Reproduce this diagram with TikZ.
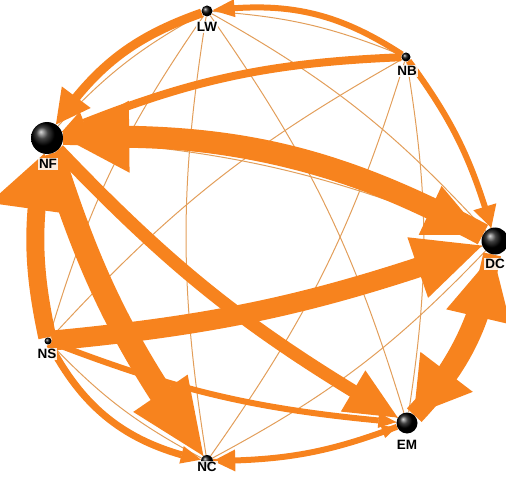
\documentclass[tikz,border=0pt]{standalone}
\usepackage{fontspec}
\setmainfont{Liberation Sans}
\usetikzlibrary{arrows.meta,bending}
\definecolor{flowcol}{RGB}{247,131,30}
\definecolor{thincol}{RGB}{226,158,90}
\pgfdeclarelayer{bg}
\pgfsetlayers{bg,main}
\begin{document}
\begin{tikzpicture}[x=1pt,y=1pt,
  spherenode/.style={circle,inner sep=0pt,ball color=black,minimum size=#1},
  lab/.style={fill=white,fill opacity=0.85,text opacity=1,inner sep=1pt,font=\fontsize{13.5}{14}\selectfont\bfseries},
  thinline/.style={draw=thincol,line width=1pt},
  flowarrow/.style n args={3}{draw=flowcol,line width=#1,-{Triangle[length=#2,width=#3,line width=0pt]}}]
\useasboundingbox (0,0) rectangle (506,480);
% spheres
\node[spherenode=11pt] (LW) at (207,469) {};
\node[spherenode=9pt]  (NB) at (406,423) {};
\node[spherenode=32pt] (NF) at (47,342) {};
\node[spherenode=27pt] (DC) at (495,239) {};
\node[spherenode=7pt]  (NS) at (48,139) {};
\node[spherenode=12pt] (NC) at (207,19) {};
\node[spherenode=21pt] (EM) at (407,57) {};
% labels
\node[lab] (LWl) at (207,453) {LW};
\node[lab] (NBl) at (407,409) {NB};
\node[lab] (NFl) at (48,316) {NF};
\node[lab] (DCl) at (495,216) {DC};
\node[lab] (NSl) at (47,126) {NS};
\node[lab] (NCl) at (207,13) {NC};
\node[lab] (EMl) at (407,35) {EM};
\begin{pgfonlayer}{bg}
% thin lines
\draw[thinline] (DC) to[bend right=9] (NB);
\draw[thinline] (DC) to[bend right=9] (LW);
\draw[thinline] (DC) to[bend right=9] (NF);
\draw[thinline] (NS) to[bend right=9] (DC);
\draw[thinline] (NC) to[bend right=9] (DC);
\draw[thinline] (EM) to[bend right=9] (DC);
\draw[thinline] (NB) to[bend right=9] (LW);
\draw[thinline] (NB) to[bend right=9] (NF);
\draw[thinline] (NB) to[bend right=9] (NS);
\draw[thinline] (NC) to[bend right=9] (NB);
\draw[thinline] (EM) to[bend right=9] (NB);
\draw[thinline] (LW) to[bend right=9] (NF);
\draw[thinline] (LW) to[bend right=9] (NS);
\draw[thinline] (LW) to[bend right=9] (NC);
\draw[thinline] (EM) to[bend right=9] (LW);
\draw[thinline] (NF) to[bend right=9] (NS);
\draw[thinline] (NF) to[bend right=9] (NC);
\draw[thinline] (NF) to[bend right=9] (EM);
\draw[thinline] (NS) to[bend right=9] (NC);
\draw[thinline] (NS) to[bend right=9] (EM);
\draw[thinline] (NC) to[bend right=9] (EM);
% thick flows
\draw[flowarrow={6pt}{22pt}{18pt}] (NB) to[bend right=20] (LW);
\draw[flowarrow={9pt}{34pt}{36pt}] (LW) to[bend right=18] (NF);
\draw[flowarrow={8pt}{24pt}{24pt}] (NB) to[bend right=10] (NF);
\draw[flowarrow={14pt}{58pt}{54pt}] (NF) to[bend left=13] (DC);
\draw[flowarrow={22pt}{66pt}{72pt}] (DC) to[bend right=15] (NF);
\draw[flowarrow={20pt}{68pt}{64pt}] (NS) to[bend right=7] (DC);
\draw[flowarrow={7pt}{20pt}{18pt}] (NS) to[bend right=25] (NC);
\draw[flowarrow={24pt}{76pt}{66pt}] (NF) to[bend right=9] (NC);
\draw[flowarrow={18pt}{56pt}{95pt}] (NS) to[bend left=11] (NF);
\draw[flowarrow={13pt}{52pt}{48pt}] (NF) to[bend right=8] (EM);
\draw[flowarrow={6pt}{18pt}{15pt}] (NS) to[bend right=8] (EM);
\draw[flowarrow={6pt}{22pt}{24pt}] (NB) to[bend left=10] (DC);
\draw[flowarrow={20pt}{64pt}{66pt}] (EM) to[bend right=17] (DC);
\draw[flowarrow={18pt}{54pt}{66pt}] (DC) to[bend left=14] (EM);
\draw[flowarrow={6pt}{22pt}{22pt}] (EM) to[bend left=10] (NC);
\draw[flowarrow={4pt}{15pt}{13pt}] (NC) to[bend right=10] (EM);
\end{pgfonlayer}
\end{tikzpicture}
\end{document}
